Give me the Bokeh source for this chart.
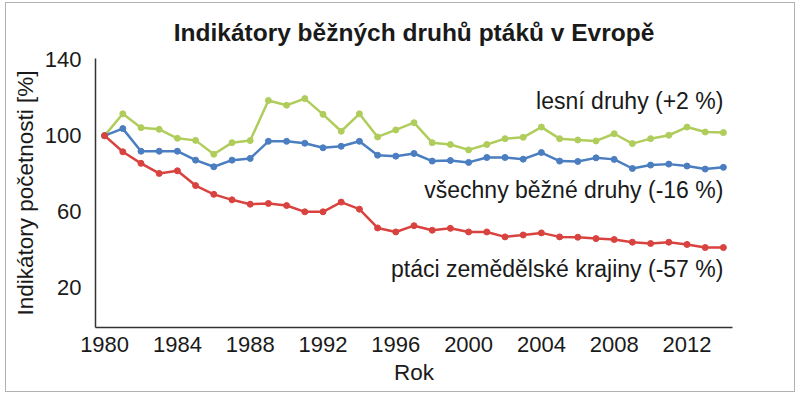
from bokeh.plotting import figure
from bokeh.models import Range1d, FixedTicker, Label
from bokeh.embed import file_html
from bokeh.resources import INLINE

years = list(range(1980, 2015))
lesni = [100, 111.5, 104.2, 103.3, 98.6, 97.5, 90.2, 96.3, 97.4, 118.5,
         116.0, 119.5, 111.2, 102.3, 111.5, 99.3, 103.0, 106.8, 96.3, 95.3,
         92.5, 95.3, 98.4, 99.1, 104.5, 98.4, 97.7, 97.2, 101.0, 95.8,
         98.4, 100.2, 104.5, 101.9, 101.6]
vsechny = [100, 103.7, 91.8, 91.8, 91.8, 87.1, 83.6, 87.1, 88.0, 97.0,
           97.0, 96.0, 93.6, 94.4, 97.0, 89.7, 89.2, 90.6, 86.6, 86.9,
           85.9, 88.5, 88.5, 87.6, 91.1, 86.6, 86.4, 88.3, 87.5, 82.7,
           84.5, 85.0, 84.0, 82.4, 83.3]
zemedelske = [100, 91.5, 85.4, 80.1, 81.5, 73.7, 69.1, 66.2, 63.9, 64.3,
              63.2, 59.9, 59.9, 65.0, 61.3, 51.4, 49.3, 52.6, 50.2, 51.2,
              49.3, 49.3, 46.7, 47.7, 48.8, 46.7, 46.5, 45.8, 45.3, 43.9,
              43.2, 43.9, 42.7, 41.1, 41.1]

x_ticks = [1980, 1984, 1988, 1992, 1996, 2000, 2004, 2008, 2012]
y_ticks = [20, 60, 100, 140]
series_labels = ["lesní druhy (+2 %)", "všechny běžné druhy (-16 %)",
                 "ptáci zemědělské krajiny (-57 %)"]
label_y = [118.2, 71.4, 29.7]

FONT = "Liberation Sans"
TXT = "#1a1a1a"

p = figure(width=790, height=390, output_backend="svg", toolbar_location=None,
           x_range=Range1d(1979.5, 2014.5), y_range=Range1d(-1, 140.6),
           min_border_left=89, min_border_right=64, min_border_top=53,
           min_border_bottom=66,
           title="Indikátory běžných druhů ptáků v Evropě")
p.styles = {"border": "1px solid #b0b0b0", "margin-top": "2px",
            "margin-left": "5px"}
p.outline_line_color = None
p.grid.visible = False

p.title.align = "center"
p.title.text_font = FONT
p.title.text_font_size = "24.5px"
p.title.text_font_style = "bold"
p.title.text_color = TXT
p.title.standoff = 26

for ax in (p.xaxis[0], p.yaxis[0]):
    ax.axis_line_color = "#333333"
    ax.axis_line_width = 1.5
    ax.major_tick_line_color = None
    ax.minor_tick_line_color = None
    ax.major_label_text_font = FONT
    ax.major_label_text_font_size = "22px"
    ax.major_label_text_color = TXT
    ax.axis_label_text_font = FONT
    ax.axis_label_text_font_size = "22.5px"
    ax.axis_label_text_font_style = "normal"
    ax.axis_label_text_color = TXT

p.xaxis.ticker = FixedTicker(ticks=x_ticks)
p.yaxis.ticker = FixedTicker(ticks=y_ticks)
p.xaxis.axis_label = "Rok"
p.yaxis.axis_label = "Indikátory početnosti [%]"
p.xaxis.major_label_standoff = 3
p.xaxis.axis_label_standoff = 5
p.yaxis.major_label_standoff = 8
p.yaxis.axis_label_standoff = 4

colors = ["#b0cd5c", "#4a7ec0", "#d9433f"]
for data, c in zip([lesni, vsechny, zemedelske], colors):
    p.line(years, data, line_color=c, line_width=2.5)
    p.scatter(years, data, size=6, fill_color=c, line_color=c)

for txt, yv in zip(series_labels, label_y):
    p.add_layout(Label(x=2014, y=yv, text=txt, text_align="right",
                       text_baseline="middle", text_font=FONT,
                       text_font_size="23px", text_color=TXT))

open("out.html", "w").write(file_html(p, INLINE))
